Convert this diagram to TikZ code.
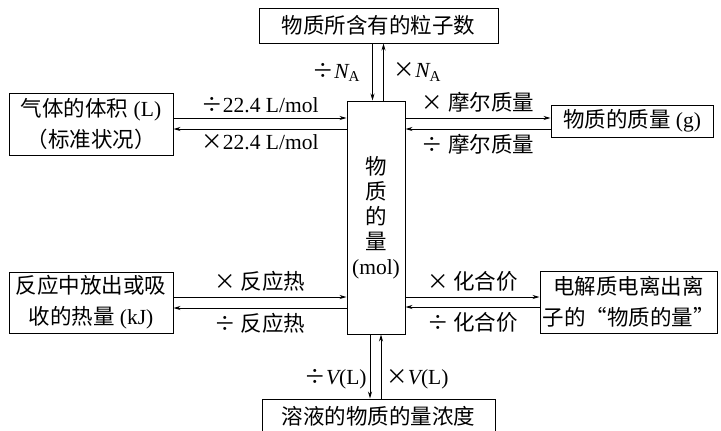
\documentclass[tikz,border=0pt]{standalone}
\usepackage{fontspec}
\setmainfont{Liberation Serif}
\newfontfamily\cjk{Noto Sans CJK SC}
\usetikzlibrary{arrows.meta, positioning}

\begin{document}
\begin{tikzpicture}[x=1pt, y=-1pt,
  box/.style={draw, line width=1pt, inner sep=0pt, align=center, font=\fontsize{21.5}{31}\selectfont},
  conv/.style={line width=0.8pt, -{Stealth[length=7pt, width=4pt]}},
  lbl/.style={font=\fontsize{21.5}{24}\selectfont, inner sep=0pt}]
\useasboundingbox (0,0) rectangle (721,431);
% boxes
\node [box, font=\fontsize{21.5}{25}\selectfont, minimum width=58pt, minimum height=233pt] (mol) at (376,217.5)
  {{\cjk 物}\\{\cjk 质}\\{\cjk 的}\\{\cjk 量}\\(mol)};
\node [box, minimum width=239pt, minimum height=35pt] (count) at (378.5,25.5) {\cjk 物质所含有的粒子数};
\node [box, minimum width=233pt, minimum height=35pt] (conc) at (378.5,416.5) {\cjk 溶液的物质的量浓度};
\node [box, minimum width=164pt, minimum height=62pt] (gas) at (91,124)
  {{\cjk 气体的体积} (L)\\{\cjk （标准状况）}};
\node [box, minimum width=162pt, minimum height=32pt] (mass) at (632,121) {{\cjk 物质的质量} (g)};
\node [box, minimum width=164pt, minimum height=61pt] (heat) at (91,302.5)
  {{\cjk 反应中放出或吸}\\{\cjk 收的热量} (kJ)};
\node [box, minimum width=177pt, minimum height=62pt] (ion) at (628.5,302)
  {{\cjk 电解质电离出离}\\{\cjk 子的“物质的量”}};
% conversions
\begin{scope}[every node/.style={lbl}]
\draw [conv] ([xshift=-6pt]count.south) -- ([xshift=-6pt]count.south |- mol.north)
  node [midway, left=12pt] {{\cjk ÷}{\itshape N}\textsubscript{A}};
\draw [conv] ([xshift=5pt]count.south |- mol.north) -- ([xshift=5pt]count.south)
  node [midway, right=10pt] {{\cjk ×}{\itshape N}\textsubscript{A}};
\draw [conv] ([xshift=-6pt]mol.south) -- ([xshift=-6pt]mol.south |- conc.north)
  node [pos=0.7, left=3pt] {{\cjk ÷}{\itshape V}(L)};
\draw [conv] ([xshift=5pt]mol.south |- conc.north) -- ([xshift=5pt]mol.south)
  node [pos=0.3, right=5pt] {{\cjk ×}{\itshape V}(L)};
\draw [conv] ([yshift=6pt]gas.east) -- ([yshift=6pt]gas.east -| mol.west)
  node [midway, above=5pt] {{\cjk ÷}22.4 L/mol};
\draw [conv] ([yshift=-5pt]gas.east -| mol.west) -- ([yshift=-5pt]gas.east)
  node [midway, below=5pt] {{\cjk ×}22.4 L/mol};
\draw [conv] ([yshift=3pt]mass.west -| mol.east) -- ([yshift=3pt]mass.west)
  node [midway, above=5pt] {{\cjk × 摩尔质量}};
\draw [conv] ([yshift=-8pt]mass.west) -- ([yshift=-8pt]mass.west -| mol.east)
  node [midway, below=5pt] {{\cjk ÷ 摩尔质量}};
\draw [conv] ([yshift=5.5pt]heat.east) -- ([yshift=5.5pt]heat.east -| mol.west)
  node [midway, above=5pt] {{\cjk × 反应热}};
\draw [conv] ([yshift=-5.5pt]heat.east -| mol.west) -- ([yshift=-5.5pt]heat.east)
  node [midway, below=5pt] {{\cjk ÷ 反应热}};
\draw [conv] ([yshift=5pt]ion.west -| mol.east) -- ([yshift=5pt]ion.west)
  node [midway, above=5pt] {{\cjk × 化合价}};
\draw [conv] ([yshift=-5pt]ion.west) -- ([yshift=-5pt]ion.west -| mol.east)
  node [midway, below=5pt] {{\cjk ÷ 化合价}};
\end{scope}
\end{tikzpicture}
\end{document}
